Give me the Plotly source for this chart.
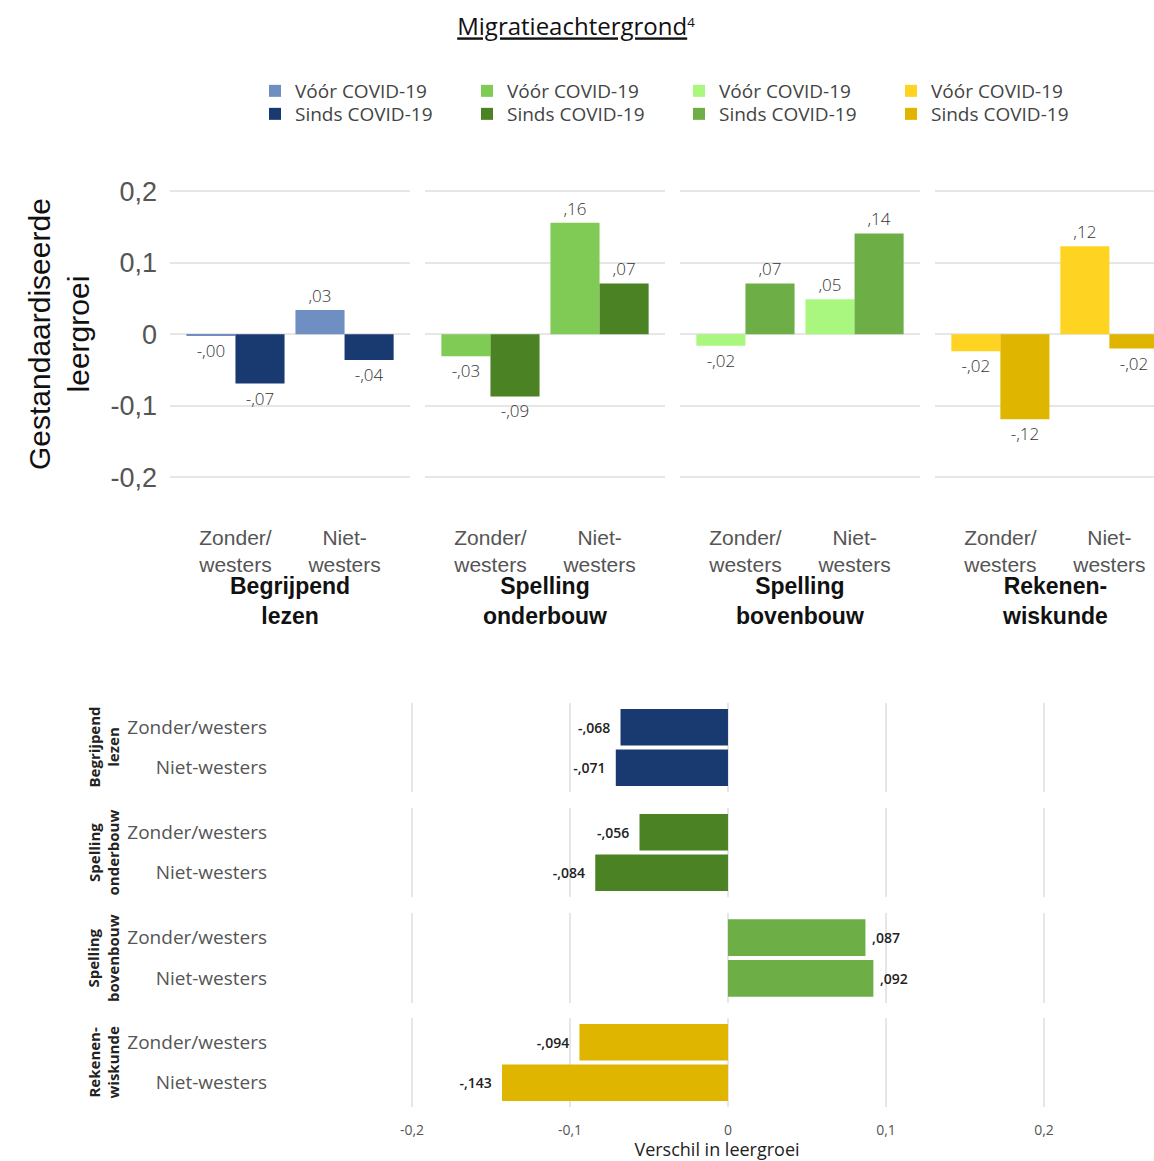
import plotly.graph_objects as go

W, H = 1154, 1161

# --- data ---------------------------------------------------------------
subjects = ["Begrijpend<br>lezen", "Spelling<br>onderbouw", "Spelling<br>bovenbouw", "Rekenen-<br>wiskunde"]
groups_top = ["Zonder/<br>westers", "Niet-<br>westers"]
groups_bottom = ["Zonder/westers", "Niet-westers"]

# standardised learning growth per subject: [Zonder/westers, Niet-westers]
voor_covid = [[-0.002, 0.034], [-0.031, 0.156], [-0.016, 0.049], [-0.024, 0.123]]
sinds_covid = [[-0.069, -0.036], [-0.087, 0.071], [0.071, 0.141], [-0.119, -0.020]]
verschil = [[-0.068, -0.071], [-0.056, -0.084], [0.087, 0.092], [-0.094, -0.143]]

y_tickvals = [-0.2, -0.1, 0, 0.1, 0.2]
y_ticktext = ["-0,2", "-0,1", "0", "0,1", "0,2"]

voor_colors = ["#6F8FC3", "#7FCB55", "#AAF77F", "#FFD321"]
sinds_colors = ["#183A70", "#4A8224", "#6DAF46", "#E0B500"]

GRID = "#E6E6E6"
ARIAL = "Liberation Sans, Arial, sans-serif"
SANS = "Open Sans, sans-serif"
NBSP = "\u00a0"


def px(x):
    return x / W


def py(y):
    return 1 - y / H


def dutch(v, d):
    return f"{v:.{d}f}".replace("0.", ",", 1)


fig = go.Figure()

# --- top panel: grouped bars per subject -------------------------------
top_x_dom = [(170, 410), (425, 665), (680, 920), (935, 1154)]
top_y_dom = (177, 520)

for i in range(4):
    xa = "x" if i == 0 else f"x{i + 1}"
    ya = "y" if i == 0 else f"y{i + 1}"
    for name, vals, col, lg in [("Vóór COVID-19", voor_covid[i], voor_colors[i], "legend"),
                                ("Sinds COVID-19", sinds_covid[i], sinds_colors[i], "legend2")]:
        fig.add_trace(go.Bar(
            x=groups_top, y=vals, name=name, marker_color=col, marker_line_width=0,
            text=[dutch(v, 2) for v in vals], textposition="outside", constraintext="none",
            textfont=dict(family=SANS, size=17, color="#333", weight=300),
            cliponaxis=False, xaxis=xa, yaxis=ya, legend=lg,
            hoverinfo="skip",
        ))

# --- bottom panel: difference per subject -------------------------------
bot_x_dom = (280, 1154)
bot_y_dom = [(703, 792), (808, 897), (913, 1003), (1018, 1107)]

for i in range(4):
    labels = [(dutch(v, 3) + NBSP * 2) if v < 0 else (NBSP + dutch(v, 3)) for v in verschil[i]]
    fig.add_trace(go.Bar(
        x=verschil[i], y=groups_bottom, orientation="h",
        marker_color=sinds_colors[i], marker_line_width=0,
        text=labels, textposition="outside", constraintext="none",
        textfont=dict(family=SANS, size=14, color="#222", weight=600),
        cliponaxis=False, xaxis=f"x{5 + i}", yaxis=f"y{5 + i}", showlegend=False,
        hoverinfo="skip",
    ))

layout = dict(
    width=W, height=H, margin=dict(l=0, r=0, t=0, b=0),
    paper_bgcolor="white", plot_bgcolor="white",
    barmode="group", bargap=0.1, bargroupgap=0,
    title=dict(text="<u>Migratieachtergrond</u><span style='font-size:19px'><sup>4</sup></span>",
               x=px(576), xanchor="center", y=py(27), yanchor="middle",
               font=dict(family=SANS, size=24, color="#111")),
)

for i in range(4):
    sx = "" if i == 0 else str(i + 1)
    x0, x1 = top_x_dom[i]
    rng_hi = 1.6 if i < 3 else -0.6 + (x1 - x0) / 109.0
    layout[f"xaxis{sx}"] = dict(
        domain=[px(x0), px(x1)], anchor=f"y{sx}", type="category", range=[-0.6, rng_hi],
        showgrid=False, showline=False, zeroline=False, ticks="", ticklabelstandoff=3,
        tickfont=dict(family=ARIAL, size=21, color="#555"),
    )
    ya = dict(
        domain=[py(top_y_dom[1]), py(top_y_dom[0])], anchor=f"x{sx}", range=[-0.26, 0.22],
        tickvals=y_tickvals, ticktext=y_ticktext, showgrid=True, gridcolor=GRID, gridwidth=2,
        zeroline=True, zerolinecolor=GRID, zerolinewidth=2, showline=False, ticks="",
        showticklabels=(i == 0), ticklabelstandoff=12,
        tickfont=dict(family=ARIAL, size=27, color="#555"),
    )
    if i > 0:
        ya["matches"] = "y"
    layout[f"yaxis{sx}"] = ya

for i in range(4):
    n = 5 + i
    y0, y1 = bot_y_dom[i]
    xa = dict(
        domain=[px(bot_x_dom[0]), px(bot_x_dom[1])], anchor=f"y{n}", range=[-0.2835, 0.2696],
        tickvals=y_tickvals, ticktext=y_ticktext, showgrid=True, gridcolor=GRID, gridwidth=2,
        zeroline=False, showline=False, ticks="", showticklabels=(i == 3),
        ticklabelstandoff=13, tickfont=dict(family=SANS, size=14, color="#555"),
    )
    if i == 3:
        xa["title"] = dict(text="Verschil in leergroei", standoff=2,
                           font=dict(family=SANS, size=18, color="#222"))
    layout[f"xaxis{n}"] = xa
    layout[f"yaxis{n}"] = dict(
        domain=[py(y1), py(y0)], anchor=f"x{n}", type="category", range=[1.6, -0.6],
        showgrid=False, zeroline=False, showline=False, ticks="", ticklabelstandoff=12,
        tickfont=dict(family=SANS, size=19, color="#555"),
    )

# legends: one horizontal row for "Vóór", one for "Sinds"
for lg, top in [("legend", 72), ("legend2", 95)]:
    layout[lg] = dict(
        x=px(255), xanchor="left", y=py(top), yanchor="top",
        orientation="h", entrywidth=167, entrywidthmode="pixels",
        bgcolor="rgba(0,0,0,0)", font=dict(family=SANS, size=19, color="#444"),
    )

annotations = [dict(
    text="Gestandaardiseerde<br>leergroei", xref="paper", x=px(59), yref="paper", y=py(334),
    textangle=-90, xanchor="center", yanchor="middle", showarrow=False,
    font=dict(family=ARIAL, size=30, color="#111"),
)]
for i in range(4):
    sx = "" if i == 0 else str(i + 1)
    annotations.append(dict(
        text=f"<b>{subjects[i]}</b>", xref=f"x{sx}", x=0.5, yref="paper", y=py(601),
        xanchor="center", yanchor="middle", showarrow=False,
        font=dict(family=ARIAL, size=23, color="#111"),
    ))
    annotations.append(dict(
        text=f"<b>{subjects[i]}</b>", xref="paper", x=px(103), yref=f"y{5 + i} domain", y=0.5,
        textangle=-90, xanchor="center", yanchor="middle", showarrow=False,
        font=dict(family=SANS, size=15, color="#222"),
    ))
layout["annotations"] = annotations

fig.update_layout(**layout)
fig.write_html("out.html", config={"displayModeBar": False},
               post_script="document.body.style.margin='0';document.body.style.overflow='hidden';")
